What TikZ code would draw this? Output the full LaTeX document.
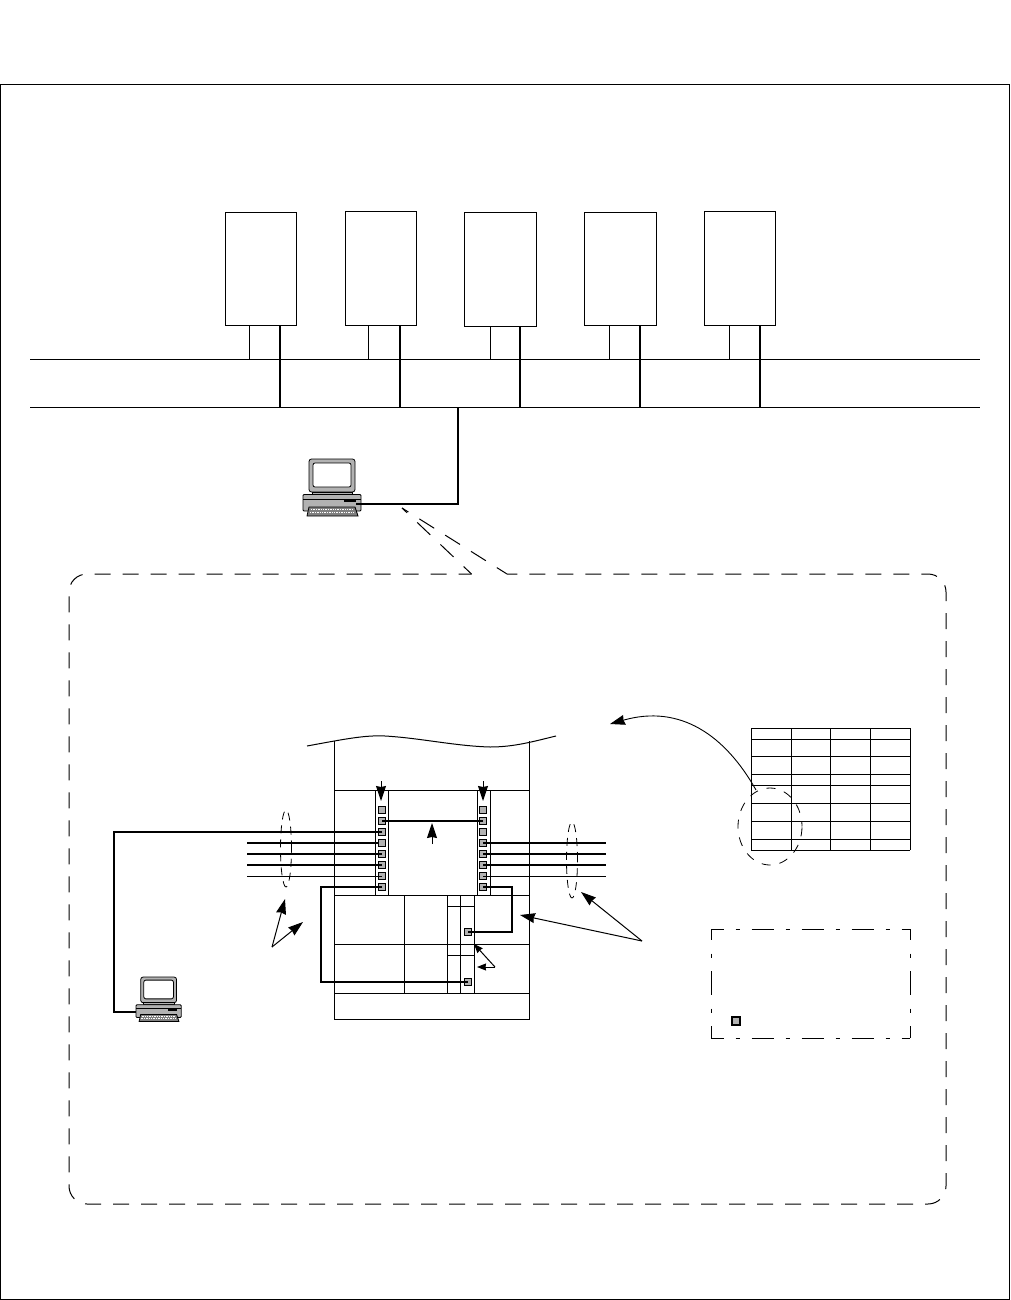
\documentclass[tikz,border=0pt]{standalone}
\usetikzlibrary{arrows.meta,shapes.geometric,calc}
\definecolor{pcgray}{gray}{0.70}
\tikzset{
  base/.style={line width=1pt,line cap=butt},
  heavy/.style={line width=2.3pt,line join=miter},
  srv/.style={draw,line width=1pt,minimum width=71.5,minimum height=113,inner sep=0,outer sep=0},
  port/.style={draw,line width=.8pt,fill=pcgray,minimum size=7.5,inner sep=0,outer sep=0},
  bigtip/.style={-{Stealth[length=15pt,width=10pt,inset=1pt]},line width=1pt},
  ring/.style={draw,ellipse,inner sep=0,outer sep=0,line width=.8pt},
  pc/.pic={
    \draw[line width=.8pt,fill=pcgray,rounded corners=2.5] (6,0) rectangle (52,33);
    \draw[line width=.8pt,fill=white,rounded corners=2] (10,4) rectangle (48,28);
    \draw[line width=.8pt,fill=pcgray] (9,33) rectangle (49,35.5);
    \draw[line width=.8pt,fill=pcgray,rounded corners=1] (0,35.5) rectangle (58,52);
    \draw[line width=.6pt] (0,40.5) -- (58,40.5);
    \fill (41,40) rectangle (53,43);
    \draw[line width=.8pt,fill=gray] (6,48) -- (52,48) -- (55,57) -- (4,57) -- cycle;
    \draw[white,line width=1.2pt,dash pattern=on 1.4pt off 1pt] (8,50.5) -- (50,50.5);
    \draw[white,line width=1.2pt,dash pattern=on 1.4pt off 1pt] (7,53.5) -- (51,53.5);
  }
}
\begin{document}
\begin{tikzpicture}[x=1pt,y=-1pt,base]
\useasboundingbox (0,0) rectangle (1010,1300);
% outer frame
\node[draw,line width=1pt,inner sep=0,outer sep=0,minimum width=1009,minimum height=1214.5] (frame) at (505,692) {};
% servers
\node[srv] (s1) at (260.75,268.5) {};
\node[srv,minimum height=114] (s2) at (380.75,268) {};
\node[srv,minimum width=72.5,minimum height=114] (s3) at (500.25,269) {};
\node[srv,minimum width=72.5] (s4) at (620.25,268.5) {};
\node[srv,minimum height=114] (s5) at (739.75,268) {};
% bus
\coordinate (busTL) at (30,359);
\coordinate (busTR) at (980,359);
\coordinate (busBL) at (30,407);
\coordinate (busBR) at (980,407);
\draw (busTL) -- (busTR);
\draw (busBL) -- (busBR);
\foreach \n/\a/\b in {s1/-11.75/19.25,s2/-12.75/19.25,s3/-10.25/19.75,s4/-11.25/19.75,s5/-10.75/20.25}{
  \draw ([xshift=\a pt]\n.south) -- ([xshift=\a pt]\n.south |- busTL);
  \draw[line width=2pt] ([xshift=\b pt]\n.south) -- ([xshift=\b pt]\n.south |- busBL);
}
% upper computer
\pic at (303,459) {pc};
\coordinate (pcA) at (356,504);
\coordinate (busDrop) at (458,407);
\draw[line width=2pt] (busDrop) -- (busDrop |- pcA) -- (pcA);
% zoom lines and dashed region
\coordinate (zA) at (402,508);
\coordinate (zB) at (471.5,574);
\coordinate (zC) at (507,574);
\draw[dash pattern=on 18pt off 14pt,dash phase=11pt] (zA) -- (zB);
\draw[dash pattern=on 17.5pt off 13pt,dash phase=10pt] (zA) -- (zC);
\draw[rounded corners=18pt,dash pattern=on 16pt off 12pt,dash phase=3pt]
  (zB) -- (69,574) -- (69,1204) -- (946,1204) -- (946,574) -- (zC);
% main table
\coordinate (mTL) at (334.5,741);
\coordinate (mTR) at (529,741);
\coordinate (mBL) at (334.5,1019);
\coordinate (mBR) at (529,1019);
\draw (mTL) -- (mBL) -- (mBR) -- (mTR);
\draw (307,746) .. controls (345,739) and (365,735) .. (385,736)
      .. controls (420,738) and (455,746) .. (490,747)
      .. controls (515,747) and (535,741) .. (556,736);
\foreach \y in {790,895,944,993} \draw (334.5,\y) -- (529,\y);
\foreach \x in {375,388,477,490} \draw (\x,790) -- (\x,895);
\draw (404.5,895) -- (404.5,993);
\foreach \x in {447,460,474} \draw (\x,895) -- (\x,993);
\foreach \y in {906,955} \draw (447,\y) -- (474,\y);
% ports
\foreach \i/\y in {1/810,2/821,3/832,4/843,5/854,6/865,7/876,8/887}{
  \node[port] (L\i) at (382,\y) {};
  \node[port] (R\i) at (483,\y) {};
}
\node[port] (Q1) at (468,932) {};
\node[port] (Q2) at (468,982) {};
% links
\draw[heavy] (L2.center) -- (R2.center);
\coordinate (pcB) at (137,1012);
\coordinate (lTop) at (114,832);
\draw[heavy] (L3.center) -- (lTop) -- (lTop |- pcB) -- (pcB);
\foreach \i/\y in {4/843,5/854,6/865}{
  \coordinate (lf\i) at (247,\y);
  \coordinate (rf\i) at (606,\y);
  \draw[heavy] (R\i.center) -- (rf\i);
}
\draw[heavy] (L4.west) -- (lf4);
\draw[heavy] (L5.center) -- (lf5);
\draw[heavy] (L6.center) -- (lf6);
\coordinate (lf7) at (247,876);
\coordinate (rf7) at (606,876);
\draw (L7.center) -- (lf7);
\draw (R7.center) -- (rf7);
\draw[heavy] (L8.center) -- (321,887) -- (321,982) -- (Q2.center);
\draw[heavy] (R8.center) -- (512,887) -- (512,932) -- (Q1.center);
% lower computer
\pic[scale=.78] at (136,977) {pc};
% small arrows on the strips
\coordinate (aL) at (381,781);
\coordinate (aR) at (483,781);
\coordinate (aC) at (432,844);
\draw[bigtip] (aL) -- (381,801);
\draw[bigtip] (aR) -- (483,801);
\draw[bigtip] (aC) -- (432,823);
% rings
\node[ring,minimum width=11,minimum height=77,dash pattern=on 8pt off 6pt] (eL) at (286,848.5) {};
\node[ring,minimum width=11,minimum height=76,dash pattern=on 8pt off 6pt] (eR) at (572,860) {};
% reference table
\foreach \x in {751,791,830,870,910} \draw (\x,728) -- (\x,850);
\foreach \y in {728,739,756,774,785,803,821,839,850} \draw (751,\y) -- (910,\y);
\node[ring,minimum width=64,minimum height=77,dash pattern=on 9pt off 9pt,dash phase=4pt] (eT) at (770,826.5) {};
% curved callout
\coordinate (cvS) at (756,790);
\coordinate (cvE) at (610,724);
\draw[bigtip,line width=.9pt] (cvS) .. controls (725,735) and (680,704) .. (cvE);
% label arrows
\coordinate (hubA) at (272,947);
\draw[bigtip] (hubA) -- (285,899);
\draw[bigtip] (hubA) -- (303,922);
\coordinate (hubB) at (642,941);
\draw[bigtip] (hubB) -- (581,892);
\draw[bigtip] (hubB) -- (520,915);
\coordinate (hubC) at (495,967);
\draw[-{Stealth[length=9pt,width=7pt,inset=.5pt]}] (hubC) -- (474,944);
\draw[-{Stealth[length=9pt,width=7pt,inset=.5pt]}] (hubC) -- (477,967);
% legend
\node[inner sep=0,outer sep=0,minimum width=199,minimum height=109] (leg) at (810.5,983.5) {};
\tikzset{legH/.style={dash pattern=on 22.5pt off 11.5pt on 4.5pt off 11.5pt,dash phase=9.5pt},
         legV/.style={dash pattern=on 24pt off 13.5pt on 4pt off 13.5pt,dash phase=13pt}}
\draw[legH] (leg.north west) -- (leg.north east);
\draw[legH] (leg.south west) -- (leg.south east);
\draw[legV] (leg.north west) -- (leg.south west);
\draw[legV] (leg.north east) -- (leg.south east);
\node[port,line width=2pt,minimum size=8] (legP) at (736,1021) {};
\end{tikzpicture}
\end{document}
